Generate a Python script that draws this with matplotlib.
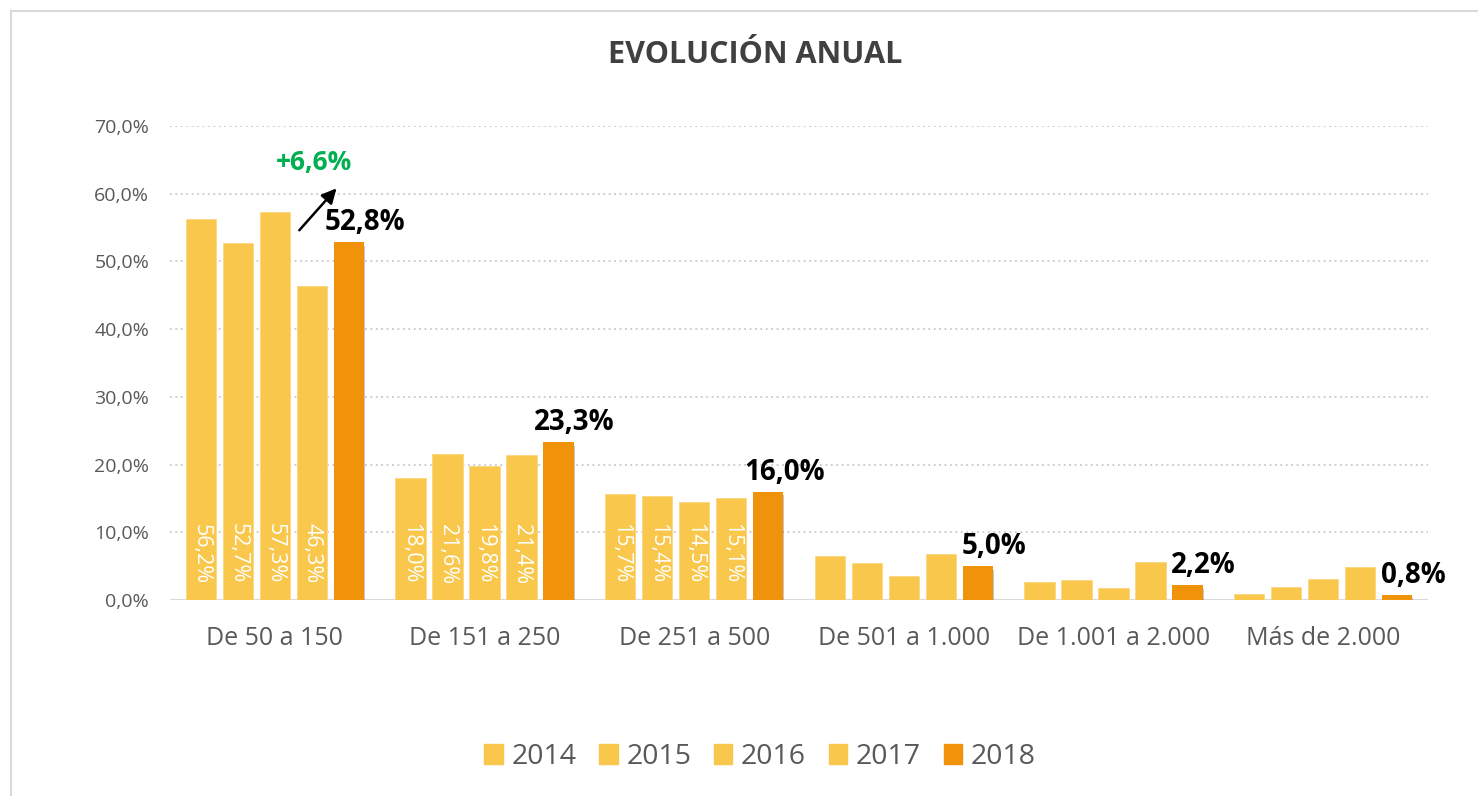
import matplotlib
matplotlib.use("Agg")
import matplotlib.pyplot as plt
import matplotlib.patheffects as pe
from matplotlib.patches import Rectangle
from matplotlib.lines import Line2D
import numpy as np

plt.rcParams['font.family'] = ['Open Sans', 'DejaVu Sans']

categories = ["De 50 a 150", "De 151 a 250", "De 251 a 500", "De 501 a 1.000",
              "De 1.001 a 2.000", "Más de 2.000"]
years = ["2014", "2015", "2016", "2017", "2018"]
v2014 = [56.2, 18.0, 15.7, 6.5, 2.7, 0.9]
v2015 = [52.7, 21.6, 15.4, 5.5, 2.9, 1.9]
v2016 = [57.3, 19.8, 14.5, 3.5, 1.8, 3.1]
v2017 = [46.3, 21.4, 15.1, 6.8, 5.6, 4.9]
v2018 = [52.8, 23.3, 16.0, 5.0, 2.2, 0.8]
series = [v2014, v2015, v2016, v2017, v2018]
inside_label_groups = 3  # first three groups show values inside the older bars
change_text = "+6,6%"
yticks = [0, 10, 20, 30, 40, 50, 60, 70]

light = "#F9C74B"
orange = "#F0920A"
colors = [light, light, light, light, orange]

W, H = 1478, 796
fig = plt.figure(figsize=(W / 100, H / 100), dpi=100)
ax = fig.add_axes([170 / W, 1 - 600 / H, (1428 - 170) / W, (600 - 126) / H])

x = np.arange(len(categories))
step = 0.1765
bw = 0.146

def fmt(v):
    return f"{v:.1f}".replace(".", ",") + "%"

for j, (vals, c) in enumerate(zip(series, colors)):
    xs = x + (j - 2) * step
    if j == 4:
        ax.bar(xs, vals, width=bw, color=c, zorder=3,
               path_effects=[pe.SimplePatchShadow(offset=(0.5, -2.5), shadow_rgbFace='#444444', alpha=0.3),
                             pe.Normal()])
        for xi, v in zip(xs, vals):
            ax.annotate(fmt(v), (xi, v), xytext=(16, 5), textcoords='offset pixels',
                        ha='center', va='bottom', fontsize=20, fontweight='bold',
                        color='black', zorder=5)
    else:
        ax.bar(xs, vals, width=bw, color=c, zorder=3, edgecolor='#FCD77F', linewidth=0.6)
        for k in range(inside_label_groups):
            ax.text(xs[k], 2.4, fmt(vals[k]), rotation=270, ha='center', va='bottom',
                    fontsize=15.5, color='white', zorder=4)

# arrow and change annotation near first 2018 bar
bx = x[0] + 2 * step
by = v2018[0]
ax.annotate("", xy=(bx - 0.05, by + 8.3), xytext=(bx - 0.245, by + 1.5),
            arrowprops=dict(arrowstyle='-|>', color='black', lw=1.8, mutation_scale=22),
            zorder=6)
ax.text(bx - 0.165, by + 11.8, change_text, ha='center', va='center', fontsize=19,
        fontweight='bold', color='#00B050', zorder=6)

ax.set_xlim(-0.5, len(categories) - 0.5)
ax.set_ylim(0, 70)
ax.set_yticks(yticks)
ax.set_yticklabels([fmt(t) for t in yticks])
ax.set_xticks(x)
ax.set_xticklabels(categories)
ax.tick_params(axis='y', length=0, pad=15, labelsize=14, labelcolor='#595959')
ax.tick_params(axis='x', length=0, pad=19, labelsize=18, labelcolor='#595959')
for s in ax.spines.values():
    s.set_visible(False)
for t in yticks[1:]:
    ax.axhline(t, color='#C8C8C8', lw=1.3, ls=(0, (1.0, 2.0)), zorder=1)
ax.axhline(0, color='#D9D9D9', lw=2.2, zorder=2)

fig.text(755 / W, 1 - 55 / H, "EVOLUCIÓN ANUAL", ha='center', va='center',
         fontsize=22, fontweight='bold', color='#404040')

handles = [Rectangle((0, 0), 1, 1, color=c) for c in colors]
fig.legend(handles, years, loc='center', bbox_to_anchor=(760 / W, 1 - 757 / H), ncol=5,
           frameon=False, fontsize=20.5, handlelength=0.65, handleheight=0.65,
           handletextpad=0.3, columnspacing=0.8, labelcolor='#595959')

# outer frame (left and top edges visible)
fig.add_artist(Line2D([11 / W, 11 / W], [0, 1 - 11 / H], transform=fig.transFigure,
                      color='#D9D9D9', lw=1.5))
fig.add_artist(Line2D([11 / W, 1], [1 - 11 / H, 1 - 11 / H], transform=fig.transFigure,
                      color='#D9D9D9', lw=1.5))

fig.savefig("out.png", dpi=100, facecolor='white')
